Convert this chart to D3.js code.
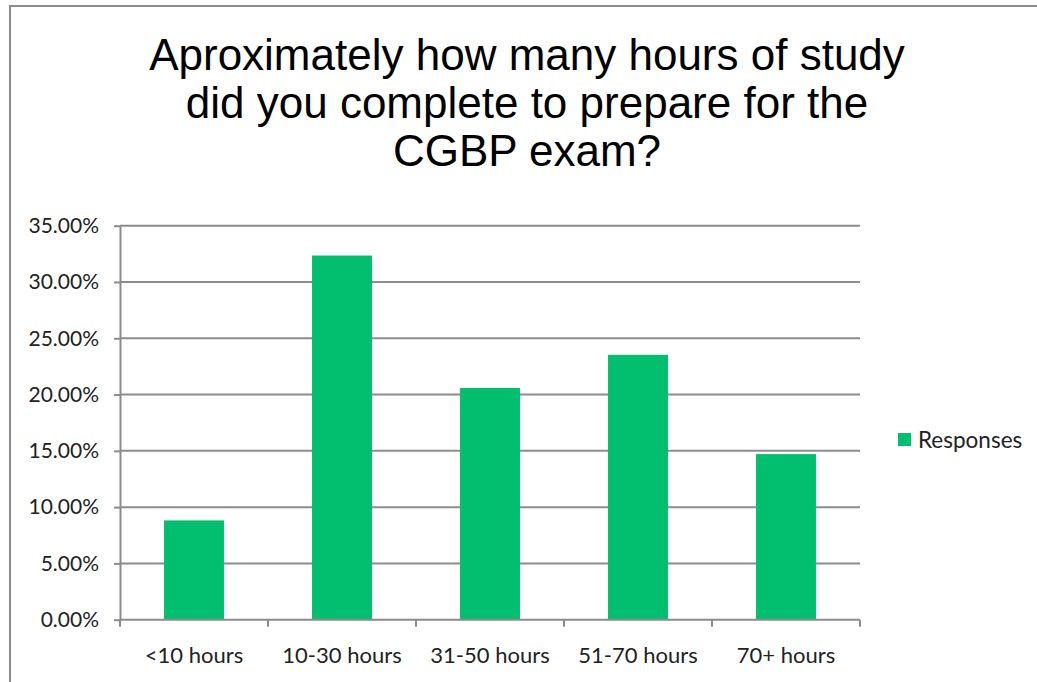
<!DOCTYPE html>
<meta charset="utf-8">
<style>
  body { margin: 0; background: #fff; }
  .title { font: 44px "Liberation Sans", Arial, sans-serif; fill: #000; }
  .axis text { font: 21px Lato, sans-serif; fill: #222; }
  .axis .lbl { font-size: 22px; }
  .axis path, .axis line { stroke: #8c8c8c; stroke-width: 2px; }
  .grid line { stroke: #8c8c8c; stroke-width: 2px; }
  .legend text { font: 22.5px Lato, sans-serif; fill: #222; }
</style>
<body>
<script src="https://d3js.org/d3.v7.min.js"></script>
<script>
  // data
  var categories = ["<10 hours", "10-30 hours", "31-50 hours", "51-70 hours", "70+ hours"];
  var responses = [0.0882, 0.3235, 0.2059, 0.2353, 0.1471];
  var yTicks = [0, 0.05, 0.10, 0.15, 0.20, 0.25, 0.30, 0.35];
  var titleLines = ["Aproximately how many hours of study", "did you complete to prepare for the", "CGBP exam?"];
  var seriesName = "Responses";

  var width = 1037, height = 682;
  var plot = { left: 120, right: 860, top: 225.7, bottom: 619.7 };
  var barColor = "#02bf70";

  var svg = d3.select("body").append("svg")
    .attr("width", width)
    .attr("height", height);

  // outer frame (only left and top edges visible)
  svg.append("path")
    .attr("d", "M10,682 V6 H1037")
    .attr("fill", "none")
    .attr("stroke", "#8c8c8c")
    .attr("stroke-width", 2);

  // title
  svg.append("text")
    .attr("class", "title")
    .attr("text-anchor", "middle")
    .selectAll("tspan")
    .data(titleLines)
    .enter().append("tspan")
    .attr("x", 527)
    .attr("y", function (d, i) { return 70 + i * 48; })
    .text(function (d) { return d; });

  var x = d3.scaleBand()
    .domain(categories)
    .range([plot.left, plot.right])
    .paddingInner(0.595)
    .paddingOuter(0.2975);

  var y = d3.scaleLinear()
    .domain([0, 0.35])
    .range([plot.bottom, plot.top]);

  // gridlines
  svg.append("g")
    .attr("class", "grid")
    .selectAll("line")
    .data(yTicks.slice(1))
    .enter().append("line")
    .attr("x1", plot.left)
    .attr("x2", plot.right)
    .attr("y1", function (d) { return y(d); })
    .attr("y2", function (d) { return y(d); });

  // bars
  svg.append("g")
    .selectAll("rect")
    .data(responses)
    .enter().append("rect")
    .attr("x", function (d, i) { return x(categories[i]); })
    .attr("width", x.bandwidth())
    .attr("y", function (d) { return y(d); })
    .attr("height", function (d) { return y(0) - y(d); })
    .attr("fill", barColor);

  // y axis
  var yAxis = svg.append("g")
    .attr("class", "axis")
    .attr("transform", "translate(" + plot.left + ",0)")
    .call(d3.axisLeft(y).tickValues(yTicks).tickFormat(d3.format(".2%")).tickSize(6).tickSizeOuter(0).tickPadding(15));

  // x axis: ticks on category boundaries
  var xAxis = svg.append("g")
    .attr("class", "axis")
    .attr("transform", "translate(0," + plot.bottom + ")");
  xAxis.append("line")
    .attr("x1", plot.left).attr("x2", plot.right);
  var step = x.step();
  xAxis.selectAll(".tk")
    .data(d3.range(categories.length + 1))
    .enter().append("line")
    .attr("class", "tk")
    .attr("x1", function (i) { return plot.left + i * step; })
    .attr("x2", function (i) { return plot.left + i * step; })
    .attr("y1", 0).attr("y2", 7);
  xAxis.selectAll(".lbl")
    .data(categories)
    .enter().append("text")
    .attr("class", "lbl")
    .attr("text-anchor", "middle")
    .attr("x", function (d) { return x(d) + x.bandwidth() / 2; })
    .attr("y", 43)
    .text(function (d) { return d; });

  // legend
  var legend = svg.append("g").attr("class", "legend");
  legend.append("rect")
    .attr("x", 898).attr("y", 433)
    .attr("width", 13).attr("height", 13)
    .attr("fill", barColor);
  legend.append("text")
    .attr("x", 918).attr("y", 448)
    .text(seriesName);
</script>
</body>
